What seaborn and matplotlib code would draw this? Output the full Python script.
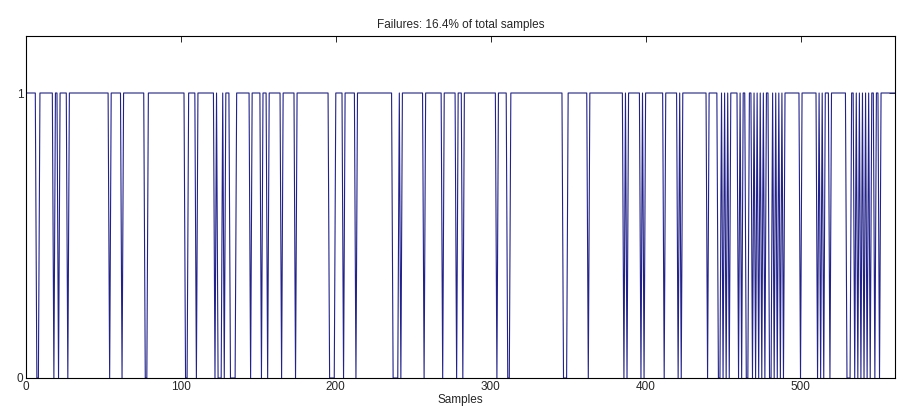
import numpy as np
import pandas as pd
import matplotlib
matplotlib.use("Agg")
import matplotlib.pyplot as plt
import seaborn as sns

# sample indices where the check failed (value 0)
n_samples = 562
failure_idx = [7, 8, 18, 21, 27, 54, 62, 77, 78,
               103, 104, 110, 122, 124, 125, 126, 128, 132, 133, 134, 135, 145, 152, 156, 165, 174,
               196, 197, 198, 199, 205, 213, 237, 238, 239, 240, 242, 257, 269, 278,
               282, 304, 311, 312, 347, 348, 349, 363,
               386, 388, 397, 399, 412, 421, 423,
               440, 447, 448, 450, 452, 454, 460, 462, 465, 466, 469, 471, 473, 475, 477,
               480, 481, 483, 485, 487, 489,
               500, 511, 513, 515, 519, 530, 531, 532, 535, 537, 539, 541, 543, 545, 548, 551]
x_ticks = [0, 100, 200, 300, 400, 500]
y_ticks = [0, 1]

samples = np.arange(n_samples)
signal = np.ones(n_samples)
signal[failure_idx] = 0
df = pd.DataFrame({"Samples": samples, "ok": signal})
pct = 100 * len(failure_idx) / n_samples

sns.set_style("white")
plt.rcParams['font.family'] = ['Liberation Sans', 'DejaVu Sans']

fig = plt.figure(figsize=(9.05, 4.09), dpi=100)
ax = fig.add_axes([26 / 905, 1 - 378 / 409, 869 / 905, 342 / 409])
sns.lineplot(data=df, x="Samples", y="ok", ax=ax, color="#22228a", linewidth=0.8,
             estimator=None)

ax.set_xlim(0, n_samples - 1)
ax.set_ylim(0, 1.2)
ax.set_xticks(x_ticks)
ax.set_yticks(y_ticks)
ax.set_ylabel("")
ax.set_xlabel("Samples", fontsize=8.5, labelpad=1)
ax.set_title(f"Failures: {pct:.1f}% of total samples", fontsize=8.5, pad=6)
ax.tick_params(direction="in", length=4, labelsize=8.5, width=0.7, top=True, right=True,
               pad=2, labeltop=False, labelright=False)
for sp in ax.spines.values():
    sp.set_color("black")
    sp.set_linewidth(0.8)

fig.savefig("out.png", dpi=100)
